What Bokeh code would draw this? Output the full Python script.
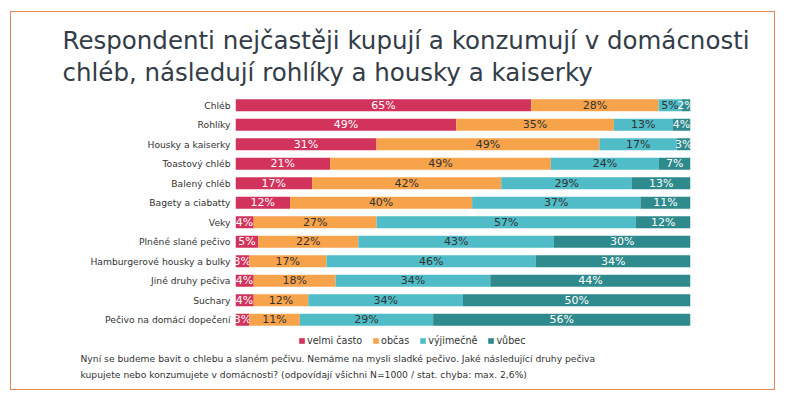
import numpy as np
from bokeh.plotting import figure
from bokeh.layouts import column
from bokeh.models import FactorRange, Range1d, ColumnDataSource, Label, Legend, LegendItem
from bokeh.core.properties import value
from bokeh.embed import file_html
from bokeh.resources import INLINE

categories = ["Chléb", "Rohlíky", "Housky a kaiserky", "Toastový chléb", "Balený chléb",
              "Bagety a ciabatty", "Veky", "Plněné slané pečivo", "Hamburgerové housky a bulky",
              "Jiné druhy pečiva", "Suchary", "Pečivo na domácí dopečení"]
velmi_casto = [65, 49, 31, 21, 17, 12, 4, 5, 3, 4, 4, 3]
obcas = [28, 35, 49, 49, 42, 40, 27, 22, 17, 18, 12, 11]
vyjimecne = [5, 13, 17, 24, 29, 37, 57, 43, 46, 34, 34, 29]
vubec = [2, 4, 3, 7, 13, 11, 12, 30, 34, 44, 50, 56]
series_names = ["velmi často", "občas", "výjimečně", "vůbec"]
series_values = [velmi_casto, obcas, vyjimecne, vubec]

title_lines = ["Respondenti nejčastěji kupují a konzumují v domácnosti",
               "chléb, následují rohlíky a housky a kaiserky"]
note_lines = ["Nyní se budeme bavit o chlebu a slaném pečivu. Nemáme na mysli sladké pečivo. Jaké následující druhy pečiva",
              "kupujete nebo konzumujete v domácnosti? (odpovídají všichni N=1000 / stat. chyba: max. 2,6%)"]

colors = ["#d2335c", "#f7a34c", "#4fbcc7", "#2f8a8d"]
label_colors = ["#ffffff", "#333333", "#333333", "#ffffff"]
FONT = "DejaVu Sans"
W = 763
HH, MH, FH = 83, 234, 60


def blank(h):
    f = figure(width=W, height=h, x_range=Range1d(0, W), y_range=Range1d(h, 0),
               x_axis_location=None, y_axis_location=None, min_border=0,
               output_backend="svg", toolbar_location=None)
    f.frame_align = False
    f.outline_line_color = None
    f.xgrid.visible = False
    f.ygrid.visible = False
    return f


# header with the title
header = blank(HH)
for i, t in enumerate(title_lines):
    header.add_layout(Label(x=51, y=28 + 32 * i, text=t, text_font=FONT, text_font_size="24.5px",
                            text_color="#333d47", text_baseline="alphabetic"))

# main stacked bar chart
p = figure(width=W, height=MH, y_range=FactorRange(*reversed(categories)), x_range=Range1d(0, 100),
           x_axis_location=None, output_backend="svg", toolbar_location=None,
           min_border_left=224, min_border_right=84, min_border_top=0, min_border_bottom=0)
p.outline_line_color = None
p.xgrid.visible = False
p.ygrid.visible = False
p.yaxis.axis_line_color = None
p.yaxis.major_tick_line_color = None
p.yaxis.minor_tick_line_color = None
p.yaxis.major_tick_out = 0
p.yaxis.major_tick_in = 0
p.yaxis.major_label_standoff = 5
p.yaxis.major_label_text_font = FONT
p.yaxis.major_label_text_font_size = "9.2px"
p.yaxis.major_label_text_color = "#333333"

totals = [sum(s[i] for s in series_values) for i in range(len(categories))]
cum = [0.0] * len(categories)
for vals, col, lcol in zip(series_values, colors, label_colors):
    left = list(cum)
    right = [cum[i] + vals[i] * 100.0 / totals[i] for i in range(len(categories))]
    cum = right
    src = ColumnDataSource(dict(y=categories, left=left, right=right,
                                mid=[(a + b) / 2 for a, b in zip(left, right)],
                                txt=[f"{v}%" for v in vals]))
    p.hbar(y="y", left="left", right="right", height=0.62, source=src,
           fill_color=col, line_color=None)
    p.text(x="mid", y="y", text="txt", source=src, text_align="center", text_baseline="middle",
           text_font=value(FONT), text_font_size="11px", text_color=lcol)

# footer with legend and note
footer = blank(FH)
items = []
for name, col in zip(series_names, colors):
    nan = np.array([np.nan])
    r = footer.hbar(y=nan, left=nan, right=nan, height=1, fill_color=col, line_color=None)
    items.append(LegendItem(label=name, renderers=[r]))
legend = Legend(items=items, orientation="horizontal", location=(287, 43),
                glyph_width=7, glyph_height=7, label_text_font=FONT, label_text_font_size="9.6px",
                label_text_color="#333333", label_standoff=2, spacing=10, padding=0, margin=0,
                label_height=10, border_line_color=None, background_fill_alpha=0)
footer.add_layout(legend, "center")
for i, t in enumerate(note_lines):
    footer.add_layout(Label(x=69, y=29 + 16 * i, text=t, text_font=FONT, text_font_size="9.2px",
                            text_color="#333333", text_baseline="alphabetic"))

layout = column(header, p, footer, spacing=0, margin=(11, 0, 0, 10),
                styles={"border": "1px solid #e8865e"})

open("out.html", "w").write(file_html(layout, INLINE))
